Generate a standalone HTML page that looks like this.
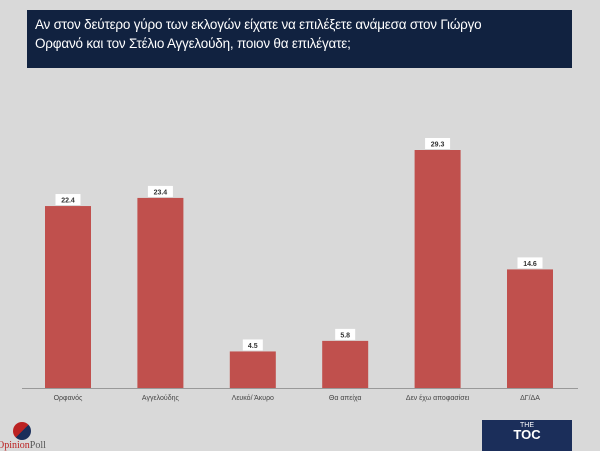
<!DOCTYPE html>
<html><head><meta charset="utf-8">
<style>
html,body{margin:0;padding:0;background:#d9d9d9;}
body{width:600px;height:451px;position:relative;overflow:hidden;font-family:"Liberation Sans",sans-serif;}
#title{position:absolute;left:27px;top:10px;width:545px;height:58px;background:#112240;color:#fff;font-size:13.5px;line-height:19px;padding:5px 8px;box-sizing:border-box;letter-spacing:-0.2px;white-space:nowrap;}
#toc{position:absolute;left:482px;top:420px;width:90px;height:31px;background:#1b2e5a;color:#fff;text-align:center;font-weight:bold;font-size:13px;}
#op{position:absolute;left:0;top:420px;}
</style></head><body>
<div id="title">Αν στον δεύτερο γύρο των εκλογών είχατε να επιλέξετε ανάμεσα στον Γιώργο<br>Ορφανό και τον Στέλιο Αγγελούδη, ποιον θα επιλέγατε;</div>
<svg id="chart" width="600" height="451" style="position:absolute;left:0;top:0"></svg>
<div id="op">
  <div style="position:absolute;left:13px;top:2px;width:18px;height:18px;border-radius:50%;background:linear-gradient(135deg,#b22 50%,#1b2e5a 50%);"></div>
  <div style="position:absolute;left:-3px;top:20px;font-size:10px;color:#b22;font-family:'Liberation Serif',serif;white-space:nowrap">Opinion<span style="color:#555">Poll</span></div>
</div>
<div id="toc"><div style="font-size:7px;font-weight:normal;margin-top:2px">THE</div><div style="margin-top:-2px">TOC</div></div>
<script>
const categories=["Ορφανός","Αγγελούδης","Λευκό/ Άκυρο","Θα απείχα","Δεν έχω αποφασίσει","ΔΓ/ΔΑ"];
const values=[22.4,23.4,4.5,5.8,29.3,14.6];
const valueLabels=["22.4","23.4","4.5","5.8","29.3","14.6"];
const svg=document.getElementById('chart');
const NS="http://www.w3.org/2000/svg";
const baseY=388, pxPer=238/29.3;
const y=v=>baseY-v*pxPer;
const x0=68, step=92.4, bw=46;
const x=i=>x0+i*step;
function mk(t,a){const e=document.createElementNS(NS,t);for(const k in a)e.setAttribute(k,a[k]);svg.appendChild(e);return e;}
const ax=mk('line',{x1:22,x2:578,y1:baseY+0.5,y2:baseY+0.5,stroke:'#999','stroke-width':1});


categories.forEach((c,i)=>{
  const r=mk('rect',{x:x(i)-bw/2,y:y(values[i]),width:bw,height:baseY-y(values[i]),fill:'#c0504d'});
  
  
  const lw=valueLabels[i].length*5+5;
  const b=mk('rect',{x:x(i)-lw/2,y:y(values[i])-12,width:lw,height:11,fill:'#fff'});
  
  
  const t=mk('text',{x:x(i),y:y(values[i])-3.5,'text-anchor':'middle','font-size':7,'font-weight':'bold',fill:'#333'});
  t.textContent=valueLabels[i];
  
  
  const l=mk('text',{x:x(i),y:400,'text-anchor':'middle','font-size':7,fill:'#444'});
  l.textContent=c;
  
  
});
</script>
</body></html>
